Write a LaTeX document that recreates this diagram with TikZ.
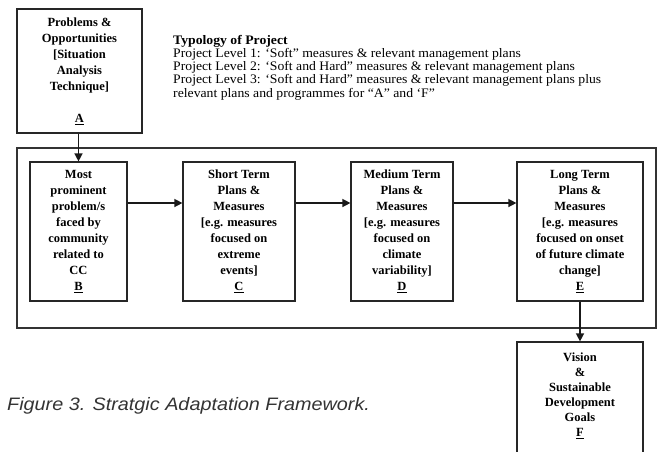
\documentclass[tikz,border=0pt]{standalone}
\usepackage{fontspec}
\setmainfont{Liberation Serif}
\newfontfamily\capfont[FakeStretch=1.1]{Liberation Sans}
\newfontfamily\typfont[FakeStretch=1.055]{Liberation Serif}
\usetikzlibrary{arrows.meta}
\tikzset{
  boxnode/.style={draw=black!85, line width=1.2pt, inner sep=0pt, align=center,
    font=\fontsize{12.5}{16}\selectfont\bfseries},
  flowarrow/.style={draw=black!90, line width=1.4pt, -{Triangle[length=8pt,width=8pt]}},
}
\begin{document}
\begin{tikzpicture}[x=1pt,y=-1pt]
\useasboundingbox (0,0) rectangle (661,451);
% outer frame
\node[draw=black!80, line width=1.2pt, minimum width=639pt, minimum height=180pt, inner sep=0pt] (frame) at (336.5,238) {};
% boxes
\node[boxnode, minimum width=125pt, minimum height=124pt] (A) at (79.5,71)
  {Problems \&\\ Opportunities\\ {[}Situation\\ Analysis\\ Technique{]}\\ \\ \underline{A}};
\node[boxnode, minimum width=97pt, minimum height=139pt] (B) at (78.5,231.5)
  {Most\\ prominent\\ problem/s\\ faced by\\ community\\ related to\\ CC\\ \underline{B}};
\node[boxnode, minimum width=112pt, minimum height=139pt] (C) at (239,231.5)
  {Short Term\\ Plans \&\\ Measures\\ {[}e.g. measures\\ focused on\\ extreme\\ events{]}\\ \underline{C}};
\node[boxnode, minimum width=102pt, minimum height=139pt] (D) at (402,231.5)
  {Medium Term\\ Plans \&\\ Measures\\ {[}e.g. measures\\ focused on\\ climate\\ variability{]}\\ \underline{D}};
\node[boxnode, minimum width=126pt, minimum height=139pt] (E) at (580,231.5)
  {Long Term\\ Plans \&\\ Measures\\ {[}e.g. measures\\ focused on onset\\ of future climate\\ change{]}\\ \underline{E}};
\node[draw=black!85, line width=1.2pt, inner sep=0pt, minimum width=126pt, minimum height=118pt] (F) at (580,401) {};
\node[align=center, inner sep=0pt, font=\fontsize{12.5}{15}\selectfont\bfseries] (Ft) at (580,395.5)
  {Vision\\ \&\\ Sustainable\\ Development\\ Goals\\ \underline{F}};
% typology text
\node[anchor=north west, align=left, inner sep=0pt, font=\typfont\fontsize{13}{13.2}\selectfont] (typ) at (173,35)
  {\textbf{Typology of Project}\\
   Project Level 1: ‘Soft” measures \& relevant management plans\\
   Project Level 2: ‘Soft and Hard” measures \& relevant management plans\\
   Project Level 3: ‘Soft and Hard” measures \& relevant management plans plus\\
   relevant plans and programmes for “A” and ‘F”};
% caption
\node[anchor=west, inner sep=0pt, text=black!80, font=\capfont\itshape\fontsize{18}{21}\selectfont] (cap) at (7,406)
  {Figure 3. Stratgic Adaptation Framework.};
% arrows
\draw[flowarrow] (A.south -| B.north) -- (B.north);
\draw[flowarrow] (B.east |- 0,203) -- (C.west |- 0,203);
\draw[flowarrow] (C.east |- 0,203) -- (D.west |- 0,203);
\draw[flowarrow] (D.east |- 0,203) -- (E.west |- 0,203);
\draw[flowarrow] (E.south) -- (F.north);
\end{tikzpicture}
\end{document}
